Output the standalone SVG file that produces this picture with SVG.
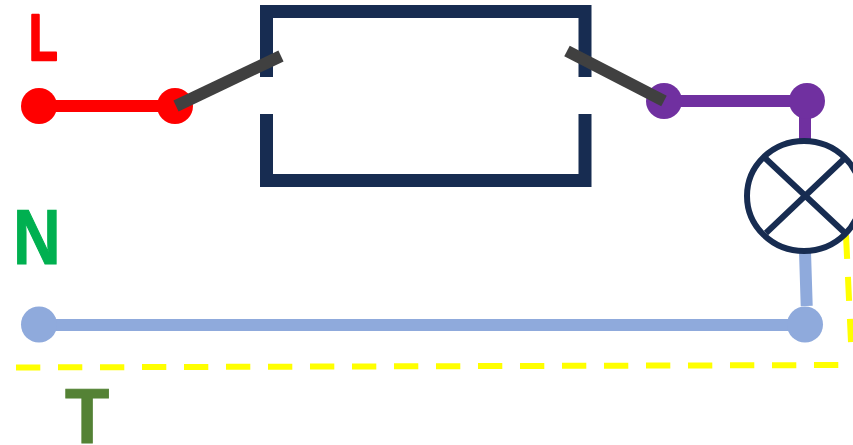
<svg xmlns="http://www.w3.org/2000/svg" width="853" height="445" viewBox="0 0 853 445">
<style>
.w{fill:none;stroke-linecap:butt}
.navy{stroke:#172c51;fill:none}
.sw{fill:none;stroke:#404040;stroke-width:12}
.t{font-family:"Liberation Sans",Arial,sans-serif;font-weight:700}
</style>
<rect width="853" height="445" fill="#fff"/>
<g id="connectors">
<path class="w" d="M39 106H175" stroke="#ff0000" stroke-width="12"/>
<path class="w" d="M664 101H807" stroke="#7030a0" stroke-width="12"/>
<path class="w" d="M805 101V141" stroke="#7030a0" stroke-width="12"/>
<path class="w" d="M39 325H805" stroke="#8faadc" stroke-width="12"/>
<path class="w" d="M805 251L806.700 306" stroke="#8faadc" stroke-width="12"/>
<path class="w" d="M16 367.500L840 365" stroke="#ffff00" stroke-width="6" stroke-dasharray="24.300 17.700"/>
<path class="w" d="M846 235L851 342" stroke="#ffff00" stroke-width="6" stroke-dasharray="24 18"/>
<path class="navy" d="M266.500 77V11.500H585V77M585 114V180.500H266.500V114" stroke-width="13"/>
</g>
<g id="node-l-start"><circle cx="39" cy="106" r="18" fill="#ff0000"/></g>
<g id="node-l-end"><circle cx="175" cy="106" r="18" fill="#ff0000"/></g>
<g id="node-p-start"><circle cx="664" cy="101" r="18" fill="#7030a0"/></g>
<g id="node-p-end"><circle cx="807" cy="101" r="18" fill="#7030a0"/></g>
<g id="node-n-start"><circle cx="39" cy="324.500" r="18" fill="#8faadc"/></g>
<g id="node-n-end"><circle cx="805" cy="324.500" r="18" fill="#8faadc"/></g>
<g id="lamp">
<ellipse class="navy" cx="804" cy="196" rx="57" ry="55" stroke-width="6"/>
<path class="navy" d="M765 158L845 233M845 158L766 233" stroke-width="6"/>
</g>
<g id="switches">
<path class="sw" d="M176 106L281 56"/>
<path class="sw" d="M567 51L664 101"/>
</g>
<g id="label-l"><text class="t" transform="translate(29 59.500) scale(.72 1)" font-size="65" fill="#ff0000" stroke="#ff0000" stroke-width="2.500" stroke-linejoin="round">L</text></g>
<g id="label-n"><text class="t" transform="translate(37 263.500) scale(.85 1)" font-size="77" fill="#00b050" stroke="#00b050" stroke-width="1.200" text-anchor="middle">N</text></g>
<g id="label-t"><text class="t" transform="translate(87 442.500) scale(.94 1)" font-size="77" fill="#548235" stroke="#548235" stroke-width="1" text-anchor="middle">T</text></g>
</svg>
